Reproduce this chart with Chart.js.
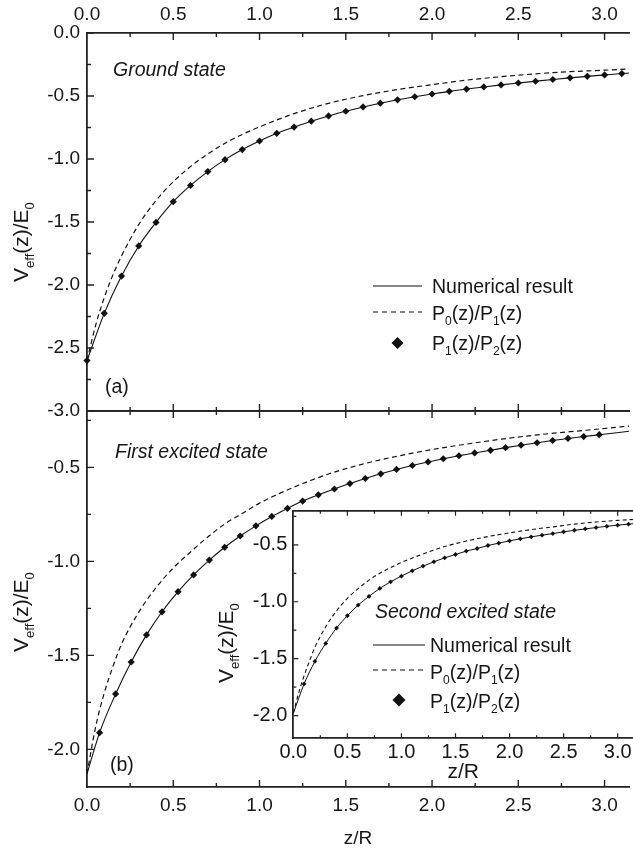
<!DOCTYPE html>
<html>
<head>
<meta charset="utf-8">
<script src="https://cdn.jsdelivr.net/npm/chart.js@4.4.1/dist/chart.umd.min.js"></script>
<style>
  html, body { margin: 0; padding: 0; background: #fff; }
  #page { position: relative; width: 633px; height: 850px; overflow: hidden; background: #fff; }
  #page canvas { position: absolute; }
</style>
</head>
<body>
<div id="page">
  <canvas id="ground" width="633" height="431" style="left:0px;top:0px"></canvas>
  <canvas id="first" width="633" height="459" style="left:0px;top:391px"></canvas>
  <canvas id="second" width="460" height="300" style="left:180px;top:490px"></canvas>
</div>
<script>
// tick positions
const zTicks = [0, 0.5, 1.0, 1.5, 2.0, 2.5, 3.0];
const groundTicks = [0, -0.5, -1.0, -1.5, -2.0, -2.5, -3.0];
const firstTicks = [-0.5, -1.0, -1.5, -2.0];
const secondTicks = [-0.5, -1.0, -1.5, -2.0];

// (a) ground state
const groundNumZ = [0, 0.1, 0.2, 0.3, 0.4, 0.5, 0.6, 0.7, 0.8, 0.9, 1.0, 1.1, 1.2, 1.3, 1.4, 1.5,
  1.6, 1.7, 1.8, 1.9, 2.0, 2.1, 2.2, 2.3, 2.4, 2.5, 2.6, 2.7, 2.8, 2.9, 3.0, 3.1, 3.1416];
const groundNumerical = [-2.60, -2.225, -1.929, -1.69, -1.503, -1.339, -1.21, -1.10, -1.005, -0.925,
  -0.857, -0.796, -0.747, -0.700, -0.658, -0.621, -0.587, -0.557, -0.530, -0.506, -0.484, -0.463,
  -0.445, -0.428, -0.412, -0.397, -0.383, -0.369, -0.356, -0.344, -0.333, -0.322, -0.318];
const groundP01Z = [0, 0.05, 0.1, 0.15, 0.2, 0.3, 0.4, 0.5, 0.6, 0.7, 0.8, 0.9, 1.0, 1.2, 1.4, 1.6,
  1.8, 2.0, 2.2, 2.4, 2.6, 2.8, 3.0, 3.1416];
const groundP01 = [-2.60, -2.32, -2.10, -1.92, -1.77, -1.52, -1.33, -1.18, -1.06, -0.96, -0.875, -0.805,
  -0.745, -0.64, -0.558, -0.497, -0.449, -0.41, -0.374, -0.347, -0.324, -0.307, -0.295, -0.286];
const groundP12Z = [0, 0.1, 0.2, 0.3, 0.4, 0.5, 0.6, 0.7, 0.8, 0.9, 1.0, 1.1, 1.2, 1.3, 1.4, 1.5,
  1.6, 1.7, 1.8, 1.9, 2.0, 2.1, 2.2, 2.3, 2.4, 2.5, 2.6, 2.7, 2.8, 2.9, 3.0, 3.1];
const groundP12 = [-2.60, -2.225, -1.929, -1.69, -1.503, -1.339, -1.21, -1.10, -1.005, -0.925,
  -0.857, -0.796, -0.747, -0.700, -0.658, -0.621, -0.587, -0.557, -0.530, -0.506, -0.484, -0.463,
  -0.445, -0.428, -0.412, -0.397, -0.383, -0.369, -0.356, -0.344, -0.333, -0.322];

// (b) first excited state
const firstNumZ = [0, 0.073, 0.166, 0.256, 0.345, 0.435, 0.528, 0.618, 0.709, 0.798, 0.888, 0.979,
  1.071, 1.162, 1.25, 1.341, 1.434, 1.524, 1.613, 1.703, 1.794, 1.886, 1.977, 2.065, 2.156, 2.247,
  2.339, 2.426, 2.516, 2.609, 2.699, 2.788, 2.879, 2.969, 3.1416];
const firstNumerical = [-2.13, -1.911, -1.705, -1.535, -1.391, -1.268, -1.161, -1.072, -0.993, -0.925,
  -0.865, -0.811, -0.761, -0.718, -0.679, -0.646, -0.615, -0.586, -0.559, -0.534, -0.511, -0.490,
  -0.471, -0.454, -0.438, -0.423, -0.409, -0.395, -0.382, -0.369, -0.357, -0.346, -0.336, -0.326, -0.308];
const firstP01Z = [0, 0.05, 0.1, 0.15, 0.2, 0.3, 0.4, 0.5, 0.6, 0.7, 0.8, 0.9, 1.0, 1.1, 1.2, 1.4,
  1.6, 1.8, 2.0, 2.2, 2.4, 2.6, 2.8, 3.0, 3.1416];
const firstP01 = [-2.13, -1.88, -1.70, -1.56, -1.44, -1.27, -1.14, -1.035, -0.95, -0.87, -0.80, -0.745,
  -0.69, -0.645, -0.605, -0.535, -0.482, -0.44, -0.405, -0.376, -0.35, -0.328, -0.31, -0.293, -0.28];
const firstP12Z = [0.073, 0.166, 0.256, 0.345, 0.435, 0.528, 0.618, 0.709, 0.798, 0.888, 0.979,
  1.071, 1.162, 1.25, 1.341, 1.434, 1.524, 1.613, 1.703, 1.794, 1.886, 1.977, 2.065, 2.156, 2.247,
  2.339, 2.426, 2.516, 2.609, 2.699, 2.788, 2.879, 2.969];
const firstP12 = [-1.911, -1.705, -1.535, -1.391, -1.268, -1.161, -1.072, -0.993, -0.925,
  -0.865, -0.811, -0.761, -0.718, -0.679, -0.646, -0.615, -0.586, -0.559, -0.534, -0.511, -0.490,
  -0.471, -0.454, -0.438, -0.423, -0.409, -0.395, -0.382, -0.369, -0.357, -0.346, -0.336, -0.326];

// inset: second excited state
const secondNumZ = [0, 0.1, 0.2, 0.3, 0.4, 0.5, 0.6, 0.7, 0.8, 0.9, 1.0, 1.1, 1.2, 1.3, 1.4, 1.5,
  1.6, 1.7, 1.8, 1.9, 2.0, 2.1, 2.2, 2.3, 2.4, 2.5, 2.6, 2.7, 2.8, 2.9, 3.0, 3.1, 3.1416];
const secondNumerical = [-1.98, -1.722, -1.524, -1.366, -1.231, -1.123, -1.029, -0.953, -0.883, -0.825,
  -0.775, -0.728, -0.687, -0.649, -0.614, -0.585, -0.555, -0.532, -0.506, -0.485, -0.465, -0.447,
  -0.430, -0.415, -0.401, -0.386, -0.372, -0.360, -0.348, -0.337, -0.327, -0.318, -0.314];
const secondP01Z = [0, 0.05, 0.1, 0.15, 0.2, 0.3, 0.4, 0.5, 0.6, 0.7, 0.8, 0.9, 1.0, 1.2, 1.4, 1.6,
  1.8, 2.0, 2.2, 2.4, 2.6, 2.8, 3.0, 3.1416];
const secondP01 = [-1.98, -1.80, -1.65, -1.52, -1.40, -1.22, -1.08, -0.97, -0.885, -0.81, -0.75, -0.70,
  -0.655, -0.58, -0.515, -0.467, -0.427, -0.395, -0.366, -0.342, -0.318, -0.299, -0.285, -0.277];
const secondP12Z = [0.1, 0.2, 0.3, 0.4, 0.5, 0.6, 0.7, 0.8, 0.9, 1.0, 1.1, 1.2, 1.3, 1.4, 1.5,
  1.6, 1.7, 1.8, 1.9, 2.0, 2.1, 2.2, 2.3, 2.4, 2.5, 2.6, 2.7, 2.8, 2.9, 3.0, 3.1];
const secondP12 = [-1.722, -1.524, -1.366, -1.231, -1.123, -1.029, -0.953, -0.883, -0.825,
  -0.775, -0.728, -0.687, -0.649, -0.614, -0.585, -0.555, -0.532, -0.506, -0.485, -0.465, -0.447,
  -0.430, -0.415, -0.401, -0.386, -0.372, -0.360, -0.348, -0.337, -0.327, -0.318];

const family = "'Liberation Sans', Arial, Helvetica, sans-serif";
const ink = '#111';
const axisInk = '#222';
const textInk = '#171717';
Chart.defaults.font.family = family;
Chart.defaults.color = textInk;

const pts = (xs, ys) => xs.map((x, i) => ({ x: x, y: ys[i] }));
const fixedTicks = values => scale => { scale.ticks = values.map(v => ({ value: v })); };
const oneDecimal = v => Number(v).toFixed(1);

// text with {subscript} parts, e.g. "P{0}(z)"
function drawRich(ctx, text, x, y, size, style) {
  const parts = text.split(/\{([^}]*)\}/);
  let cx = x;
  parts.forEach((t, i) => {
    if (!t) return;
    const sub = i % 2 === 1;
    ctx.font = `${style} ${sub ? size * 0.62 : size}px ${family}`;
    ctx.fillText(t, cx, sub ? y + size * 0.27 : y);
    cx += ctx.measureText(t).width;
  });
}

// white box behind the inset
const paperFill = {
  id: 'paperFill',
  beforeDraw(chart, args, o) {
    if (!o.on) return;
    const a = chart.chartArea;
    chart.ctx.save();
    chart.ctx.fillStyle = '#fff';
    chart.ctx.fillRect(a.left, a.top, a.right - a.left, a.bottom - a.top);
    chart.ctx.restore();
  }
};

// tick marks pointing into the plot, major every 0.5 and minor every 0.25
const inwardTicks = {
  id: 'inwardTicks',
  afterDatasetsDraw(chart, args, o) {
    const { ctx, chartArea: a } = chart;
    const xs = chart.scales.x, ys = chart.scales.y;
    ctx.save();
    ctx.strokeStyle = axisInk;
    ctx.lineWidth = o.width;
    ctx.beginPath();
    for (let i = 1; i * 0.25 <= xs.max + 1e-9; i++) {
      const px = xs.getPixelForValue(i * 0.25);
      const len = i % 2 === 0 ? o.major : o.minor;
      if (o.top) { ctx.moveTo(px, a.top); ctx.lineTo(px, a.top + len); }
      if (o.bottom) { ctx.moveTo(px, a.bottom); ctx.lineTo(px, a.bottom - len); }
    }
    const first = Math.ceil(ys.min / 0.25 - 1e-9), last = Math.floor(ys.max / 0.25 + 1e-9);
    for (let i = first; i <= last; i++) {
      const py = ys.getPixelForValue(i * 0.25);
      const len = i % 2 === 0 ? o.major : o.minor;
      ctx.moveTo(a.left, py); ctx.lineTo(a.left + len, py);
    }
    ctx.stroke();
    ctx.restore();
  }
};

// panel captions and the rotated y title
const panelText = {
  id: 'panelText',
  afterDraw(chart, args, o) {
    const ctx = chart.ctx;
    ctx.save();
    ctx.fillStyle = textInk;
    ctx.textBaseline = 'alphabetic';
    (o.notes || []).forEach(n => drawRich(ctx, n.text, n.x, n.y, n.size, n.italic ? 'italic' : 'normal'));
    if (o.yTitle) {
      ctx.translate(o.yTitle.x, o.yTitle.y);
      ctx.rotate(-Math.PI / 2);
      drawRich(ctx, 'V{eff}(z)/E{0}', 0, 0, o.yTitle.size, 'normal');
    }
    ctx.restore();
  }
};

// key built from the dataset labels and styles
const keyBox = {
  id: 'keyBox',
  afterDraw(chart, args, o) {
    if (!o.rows) return;
    const ctx = chart.ctx;
    ctx.save();
    o.rows.forEach((r, i) => {
      const ds = chart.data.datasets[i];
      ctx.fillStyle = ink;
      ctx.strokeStyle = ink;
      if (ds.showLine === false) {
        const cx = (o.x0 + o.x1) / 2, s = o.diamond;
        ctx.beginPath();
        ctx.moveTo(cx, r.markY - s); ctx.lineTo(cx + s, r.markY);
        ctx.lineTo(cx, r.markY + s); ctx.lineTo(cx - s, r.markY);
        ctx.closePath();
        ctx.fill();
      } else {
        ctx.lineWidth = 1.2;
        ctx.setLineDash(ds.borderDash ? o.dash : []);
        ctx.beginPath();
        ctx.moveTo(o.x0, r.markY); ctx.lineTo(o.x1, r.markY);
        ctx.stroke();
        ctx.setLineDash([]);
      }
      ctx.fillStyle = textInk;
      ctx.textBaseline = 'alphabetic';
      drawRich(ctx, ds.label, o.textX, r.baseline, o.size, 'normal');
    });
    ctx.restore();
  }
};

function seriesFor(numZ, num, p01Z, p01, p12Z, p12, look) {
  return [
    { label: 'Numerical result', data: pts(numZ, num), borderColor: ink, borderWidth: look.width,
      pointRadius: 0, cubicInterpolationMode: 'monotone', order: 1 },
    { label: 'P{0}(z)/P{1}(z)', data: pts(p01Z, p01), borderColor: ink, borderWidth: look.width + 0.1,
      borderDash: look.dash, pointRadius: 0, cubicInterpolationMode: 'monotone', order: 1 },
    { label: 'P{1}(z)/P{2}(z)', data: pts(p12Z, p12), showLine: false, pointStyle: 'rectRot',
      pointRadius: look.dot, backgroundColor: ink, borderColor: ink, borderWidth: 0, order: 0, clip: false }
  ];
}

function zAxis(position, labelled, fit, fontSize, pad) {
  return {
    type: 'linear', position: position, min: 0, max: Math.PI,
    afterBuildTicks: fixedTicks(zTicks),
    grid: { display: false, drawTicks: false },
    border: { color: axisInk, width: 1.8 },
    ticks: labelled
      ? { display: true, autoSkip: false, maxRotation: 0, padding: pad, font: { size: fontSize }, callback: oneDecimal }
      : { display: false },
    afterFit: s => { s.height = fit; }
  };
}

function vAxis(min, max, ticks, width, fontSize, pad) {
  return {
    type: 'linear', position: 'left', min: min, max: max,
    afterBuildTicks: fixedTicks(ticks),
    grid: { display: false, drawTicks: false },
    border: { color: axisInk, width: 1.8 },
    ticks: { autoSkip: false, padding: pad, font: { size: fontSize }, callback: oneDecimal },
    afterFit: s => { s.width = width; }
  };
}

const common = {
  responsive: false, animation: false, events: [], devicePixelRatio: 1
};
const plugins = [paperFill, inwardTicks, panelText, keyBox];

// (a)
new Chart(document.getElementById('ground'), {
  type: 'line',
  data: { datasets: seriesFor(groundNumZ, groundNumerical, groundP01Z, groundP01, groundP12Z, groundP12,
    { width: 1.1, dash: [5, 3.5], dot: 3.6 }) },
  plugins: plugins,
  options: Object.assign({}, common, {
    layout: { padding: { left: 0, right: 1, top: 0, bottom: 0 } },
    scales: {
      x: zAxis('top', true, 33, 19, 7),
      x2: zAxis('bottom', false, 20),
      y: vAxis(-3, 0, groundTicks, 87, 19, 7)
    },
    plugins: {
      legend: { display: false }, tooltip: { enabled: false },
      inwardTicks: { top: true, bottom: true, major: 7, minor: 4, width: 1.4 },
      panelText: {
        notes: [
          { text: 'Ground state', x: 113, y: 76, size: 19.5, italic: true },
          { text: '(a)', x: 105, y: 393, size: 19.5 }
        ],
        yTitle: { x: 28, y: 282, size: 21 }
      },
      keyBox: {
        x0: 373, x1: 422, textX: 432, size: 19.5, diamond: 6, dash: [5, 4],
        rows: [{ markY: 286, baseline: 293 }, { markY: 312, baseline: 320 }, { markY: 343, baseline: 350 }]
      }
    }
  })
});

// (b)
new Chart(document.getElementById('first'), {
  type: 'line',
  data: { datasets: seriesFor(firstNumZ, firstNumerical, firstP01Z, firstP01, firstP12Z, firstP12,
    { width: 1.1, dash: [5, 3.5], dot: 3.6 }) },
  plugins: plugins,
  options: Object.assign({}, common, {
    layout: { padding: { left: 0, right: 1, top: 0, bottom: 0 } },
    scales: {
      x: Object.assign(zAxis('bottom', true, 63, 19, 7), {
        title: { display: true, text: 'z/R', font: { size: 19 }, padding: { top: 0, bottom: 0 } }
      }),
      x2: zAxis('top', false, 20),
      y: vAxis(-2.2, -0.2, firstTicks, 87, 19, 7)
    },
    plugins: {
      legend: { display: false }, tooltip: { enabled: false },
      inwardTicks: { top: true, bottom: true, major: 7, minor: 4, width: 1.4 },
      panelText: {
        notes: [
          { text: 'First excited state', x: 115, y: 67, size: 19.5, italic: true },
          { text: '(b)', x: 110, y: 380, size: 19.5 }
        ],
        yTitle: { x: 28, y: 261, size: 21 }
      }
    }
  })
});

// inset
new Chart(document.getElementById('second'), {
  type: 'line',
  data: { datasets: seriesFor(secondNumZ, secondNumerical, secondP01Z, secondP01, secondP12Z, secondP12,
    { width: 1.0, dash: [4, 3], dot: 2.4 }) },
  plugins: plugins,
  options: Object.assign({}, common, {
    layout: { padding: { left: 0, right: 7, top: 0, bottom: 0 } },
    scales: {
      x: Object.assign(zAxis('bottom', true, 51.7, 20, 2.5), {
        title: { display: true, text: 'z/R', font: { size: 21 }, padding: { top: 0, bottom: 5 } }
      }),
      x2: zAxis('top', false, 20.7),
      y: vAxis(-2.2, -0.2, secondTicks, 113.3, 20, 6)
    },
    plugins: {
      legend: { display: false }, tooltip: { enabled: false },
      paperFill: { on: true },
      inwardTicks: { top: true, bottom: true, major: 5, minor: 3, width: 1.2 },
      panelText: {
        notes: [{ text: 'Second excited state', x: 195, y: 128, size: 19.5, italic: true }],
        yTitle: { x: 53, y: 193, size: 21 }
      },
      keyBox: {
        x0: 193, x1: 245, textX: 250, size: 19.5, diamond: 6.5, dash: [5, 4],
        rows: [{ markY: 155, baseline: 162 }, { markY: 180, baseline: 189 }, { markY: 210, baseline: 218 }]
      }
    }
  })
});
</script>
</body>
</html>
